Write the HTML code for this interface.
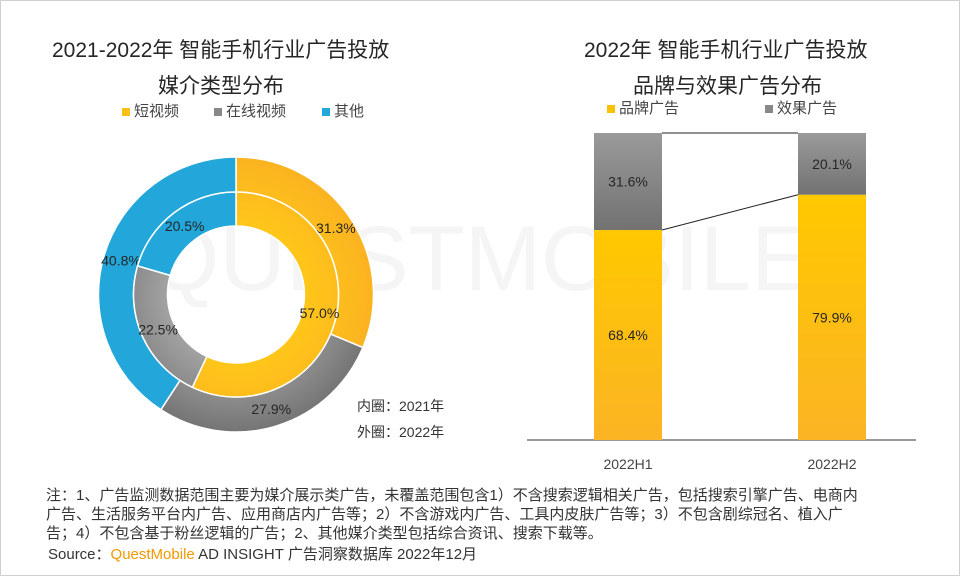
<!DOCTYPE html>
<html><head><meta charset="utf-8"><style>
body{margin:0;width:960px;height:576px;background:#fff;font-family:"Liberation Sans","Noto Sans CJK SC",sans-serif;overflow:hidden}
#frame{position:absolute;left:0;top:0;width:958px;height:574px;border:1px solid #d0d0d0}
.t{position:absolute;color:#262626}
</style></head><body>
<div id="frame"></div>
<svg width="960" height="576" style="position:absolute;left:0;top:0" id="svg">
<defs>
<radialGradient id="gy" cx="236" cy="294.5" r="137.5" gradientUnits="userSpaceOnUse"><stop offset="0.5" stop-color="#ffc619"/><stop offset="1" stop-color="#fbb321"/></radialGradient>
<radialGradient id="gg" cx="236" cy="294.5" r="137.5" gradientUnits="userSpaceOnUse"><stop offset="0.5" stop-color="#a2a2a2"/><stop offset="1" stop-color="#757575"/></radialGradient>
<linearGradient id="by" x1="0" y1="0" x2="0" y2="1"><stop offset="0" stop-color="#ffc800"/><stop offset="1" stop-color="#fbb424"/></linearGradient>
<linearGradient id="bg" x1="0" y1="0" x2="0" y2="1"><stop offset="0" stop-color="#9a9a9a"/><stop offset="1" stop-color="#727272"/></linearGradient>
</defs>
<text x="480" y="290" font-size="92" fill="#f5f5f5" text-anchor="middle" font-family="Liberation Sans">QUESTMOBILE</text>
<g id="donut"></g><g id="bars"></g>
</svg>
<div class="t" style="left:52px;top:34px;font-size:21px">2021-2022年 智能手机行业广告投放</div>
<div class="t" style="left:158px;top:70px;font-size:21px">媒介类型分布</div>
<div class="t" style="left:122px;top:100px;font-size:15px;color:#444"><span style="display:inline-block;width:8px;height:8px;background:#fbbf16;margin-right:4px"></span>短视频</div>
<div class="t" style="left:214px;top:100px;font-size:15px;color:#444"><span style="display:inline-block;width:8px;height:8px;background:#888;margin-right:4px"></span>在线视频</div>
<div class="t" style="left:322px;top:100px;font-size:15px;color:#444"><span style="display:inline-block;width:8px;height:8px;background:#23a6da;margin-right:4px"></span>其他</div>
<div class="t" style="left:357px;top:396px;font-size:14px;color:#333">内圈：2021年</div>
<div class="t" style="left:357px;top:422px;font-size:14px;color:#333">外圈：2022年</div>
<div class="t" style="left:584px;top:34px;font-size:21px">2022年 智能手机行业广告投放</div>
<div class="t" style="left:633px;top:70px;font-size:21px">品牌与效果广告分布</div>
<div class="t" style="left:607px;top:97px;font-size:15px;color:#444"><span style="display:inline-block;width:8px;height:8px;background:#ffc000;margin-right:4px"></span>品牌广告</div>
<div class="t" style="left:765px;top:97px;font-size:15px;color:#444"><span style="display:inline-block;width:8px;height:8px;background:#888;margin-right:4px"></span>效果广告</div>
<div class="t" style="left:46px;top:486px;white-space:nowrap;font-size:15px;line-height:19px;color:#333">注：1、广告监测数据范围主要为媒介展示类广告，未覆盖范围包含1）不含搜索逻辑相关广告，包括搜索引擎广告、电商内<br>广告、生活服务平台内广告、应用商店内广告等；2）不含游戏内广告、工具内皮肤广告等；3）不包含剧综冠名、植入广<br>告；4）不包含基于粉丝逻辑的广告；2、其他媒介类型包括综合资讯、搜索下载等。</div>
<div class="t" style="left:48px;top:543px;font-size:15px;color:#333">Source：<span style="color:#f39800">QuestMobile</span> AD INSIGHT 广告洞察数据库 2022年12月</div>
<script>
const categories=["短视频","在线视频","其他"];
const outer2022=[31.3,27.9,40.8];
const inner2021=[57.0,22.5,20.5];
const periods=["2022H1","2022H2"];
const brandVals=[68.4,79.9];
const perfVals=[31.6,20.1];
const NS="http://www.w3.org/2000/svg";
const cx=236,cy=294.5,fills=["url(#gy)","url(#gg)","#23a6da"];
function mk(t,a,p){const e=document.createElementNS(NS,t);for(const k in a)e.setAttribute(k,a[k]);p.appendChild(e);return e;}
function pt(r,a){return [cx+r*Math.sin(a),cy-r*Math.cos(a)];}
function ring(vals,r0,r1,name){
  const tot=vals.reduce((s,v)=>s+v,0);let a=0;
  vals.forEach((v,i)=>{
    const a2=a+v/tot*2*Math.PI,lg=a2-a>Math.PI?1:0;
    const [x1,y1]=pt(r1,a),[x2,y2]=pt(r1,a2),[x3,y3]=pt(r0,a2),[x4,y4]=pt(r0,a);
    const p=mk("path",{d:`M${x1},${y1}A${r1},${r1} 0 ${lg} 1 ${x2},${y2}L${x3},${y3}A${r0},${r0} 0 ${lg} 0 ${x4},${y4}Z`,fill:fills[i],stroke:"#fff","stroke-width":1.5},document.getElementById("donut"));
    
    
    const [lx,ly]=pt((r0+r1)/2,(a+a2)/2);
    const t=mk("text",{x:lx,y:ly+5,"text-anchor":"middle","font-size":14,fill:"#262626"},document.getElementById("donut"));
    t.textContent=v.toFixed(1)+"%";
    
    
    a=a2;
  });
}
ring(outer2022,102.5,137.5,"outer");
ring(inner2021,68.5,102.5,"inner");
const g=document.getElementById("bars");
const baseY=440,topY=133,xs=[594,798],bw=68;
const y=v=>baseY-(baseY-topY)*v/100;
const ax=mk("line",{x1:527,x2:916,y1:baseY,y2:baseY,stroke:"#333","stroke-width":1},g);


const c1=mk("line",{x1:xs[0]+bw,y1:y(brandVals[0]+perfVals[0]),x2:xs[1],y2:y(brandVals[1]+perfVals[1]),stroke:"#222"},g);


const c2=mk("line",{x1:xs[0]+bw,y1:y(brandVals[0]),x2:xs[1],y2:y(brandVals[1]),stroke:"#222"},g);


periods.forEach((p,i)=>{
  const b=mk("rect",{x:xs[i],y:y(brandVals[i]),width:bw,height:baseY-y(brandVals[i]),fill:"url(#by)"},g);
  
  
  const q=mk("rect",{x:xs[i],y:y(brandVals[i]+perfVals[i]),width:bw,height:y(brandVals[i])-y(brandVals[i]+perfVals[i]),fill:"url(#bg)"},g);
  
  
  const t1=mk("text",{x:xs[i]+bw/2,y:(y(brandVals[i])+baseY)/2+5,"text-anchor":"middle","font-size":14,fill:"#262626"},g);
  t1.textContent=brandVals[i].toFixed(1)+"%";
  
  
  const t2=mk("text",{x:xs[i]+bw/2,y:(y(brandVals[i])+y(brandVals[i]+perfVals[i]))/2+5,"text-anchor":"middle","font-size":14,fill:"#262626"},g);
  t2.textContent=perfVals[i].toFixed(1)+"%";
  
  
  const t3=mk("text",{x:xs[i]+bw/2,y:469,"text-anchor":"middle","font-size":14,fill:"#444"},g);
  t3.textContent=p;
  
  
});
</script>
</body></html>
